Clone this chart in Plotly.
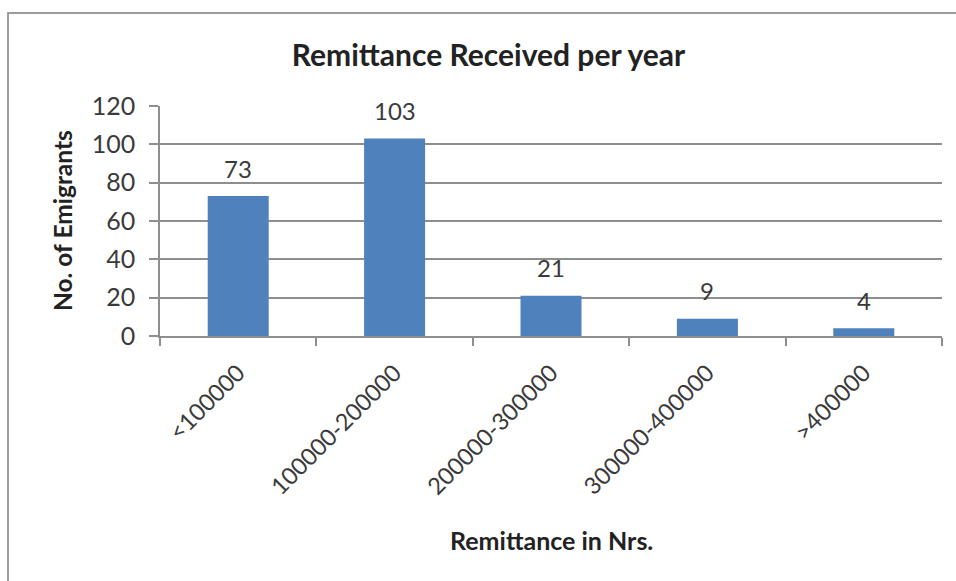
import plotly.graph_objects as go

# Remittance bands and number of emigrants in each
categories = ["<100000", "100000-200000", "200000-300000", "300000-400000", ">400000"]
emigrants = [73, 103, 21, 9, 4]
y_ticks = [0, 20, 40, 60, 80, 100, 120]

W, H = 956, 581
M_L, M_R, M_T, M_B = 160, 14, 106, 245
plot_w = W - M_L - M_R
plot_h = H - M_T - M_B


def px_to_paper_x(px):
    return (px - M_L) / plot_w


def px_to_paper_y(py):
    return (H - M_B - py) / plot_h


FONT = "Lato, 'Open Sans', sans-serif"
GRID = "#8e8e8e"
TEXT = "#3a3a3a"

fig = go.Figure(
    go.Bar(
        x=categories,
        y=emigrants,
        width=0.39,
        marker=dict(color="#4F81BD", line=dict(width=0)),
        hoverinfo="x+y",
    )
)

# value labels above the bars
for cat, val in zip(categories, emigrants):
    fig.add_annotation(
        x=cat, y=val, text=str(val), showarrow=False,
        yanchor="middle", yshift=28,
        font=dict(family=FONT, size=24, color=TEXT),
    )

# axis titles
fig.add_annotation(
    xref="paper", yref="paper", x=0.5, y=px_to_paper_y(540),
    text="<b>Remittance in Nrs.</b>", showarrow=False,
    xanchor="center", yanchor="middle",
    font=dict(family=FONT, size=25, color="#222222"),
)
fig.add_annotation(
    xref="paper", yref="paper", x=px_to_paper_x(62), y=px_to_paper_y(221),
    text="<b>No. of Emigrants</b>", showarrow=False, textangle=-90,
    xanchor="center", yanchor="middle",
    font=dict(family=FONT, size=24.5, color="#222222"),
)

# chart frame (left and top edges are in view)
fig.add_shape(
    type="rect", xref="paper", yref="paper",
    x0=px_to_paper_x(8), x1=px_to_paper_x(W + 20),
    y0=px_to_paper_y(H + 20), y1=px_to_paper_y(13),
    line=dict(color="#9c9c9c", width=2), fillcolor="rgba(0,0,0,0)",
    layer="below",
)

fig.update_layout(
    width=W, height=H,
    margin=dict(l=M_L, r=M_R, t=M_T, b=M_B, autoexpand=False),
    paper_bgcolor="white", plot_bgcolor="white",
    showlegend=False,
    title=dict(
        text="<b>Remittance Received per year</b>",
        x=488.5 / W, xanchor="center",
        y=1 - 55 / H, yanchor="middle",
        font=dict(family=FONT, size=30, color="#222222"),
    ),
    xaxis=dict(
        type="category",
        tickangle=-45,
        ticks="outside", ticklen=8, tickcolor=GRID, tickwidth=1.5,
        tickson="boundaries",
        ticklabelstandoff=12,
        showline=True, linecolor=GRID, linewidth=1.5,
        showgrid=False,
        tickfont=dict(family=FONT, size=23.5, color=TEXT),
    ),
    yaxis=dict(
        range=[0, 120],
        tickmode="array", tickvals=y_ticks,
        ticks="outside", ticklen=9, tickcolor=GRID, tickwidth=1.5,
        showline=True, linecolor=GRID, linewidth=1.5,
        showgrid=True, gridcolor=GRID, gridwidth=1.5,
        zeroline=False,
        ticklabelstandoff=9,
        tickfont=dict(family=FONT, size=25, color=TEXT),
    ),
)

fig.write_html("out.html")
